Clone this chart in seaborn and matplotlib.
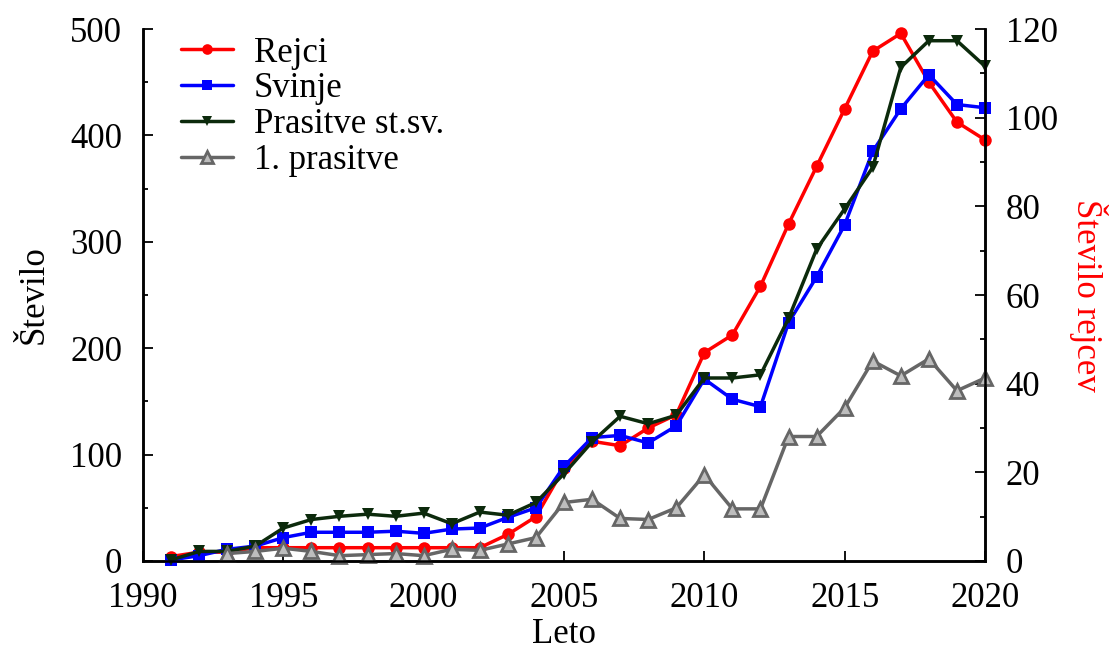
import numpy as np
import pandas as pd
import matplotlib
matplotlib.use("Agg")
import matplotlib.pyplot as plt
from matplotlib.ticker import MultipleLocator
import seaborn as sns

# Annual counts, 1991-2020
leta = list(range(1991, 2021))
rejci = [1, 2, 2, 3, 3, 3, 3, 3, 3, 3, 3, 3, 6, 10, 21, 27, 26, 30, 33, 47,
         51, 62, 76, 89, 102, 115, 119, 108, 99, 95]
svinje = [1, 5, 11, 14, 22, 27, 27, 27, 28, 26, 30, 31, 41, 50, 89, 116, 118,
          111, 127, 171, 152, 145, 224, 267, 316, 385, 425, 457, 429, 426]
prasitve_stsv = [1, 9, 9, 14, 31, 39, 42, 44, 42, 45, 35, 46, 43, 55, 82, 112,
                 136, 129, 137, 172, 172, 175, 228, 293, 331, 370, 464, 489,
                 489, 465]
prve_prasitve = [np.nan, np.nan, 7, 9, 12, 9, 5, 6, 7, 5, 11, 10, 16, 22, 55,
                 58, 40, 39, 50, 81, 49, 49, 117, 117, 144, 188, 174, 190,
                 160, 172]

df = pd.DataFrame({
    "Leto": leta,
    "Rejci": rejci,
    "Svinje": svinje,
    "Prasitve st.sv.": prasitve_stsv,
    "1. prasitve": prve_prasitve,
})

sns.set_theme(style="ticks")
plt.rcParams["font.family"] = ["Liberation Serif", "DejaVu Serif"]
plt.rcParams["font.size"] = 25
plt.rcParams["axes.labelcolor"] = "black"
plt.rcParams["text.color"] = "black"

fig = plt.figure(figsize=(11.13, 6.49), dpi=100)
ax = fig.add_axes([0.1285, 0.1356, 0.7565, 0.8197])
ax2 = ax.twinx()

lw = 2.5
ms = 9

# Breeders on the right-hand scale
sns.lineplot(data=df, x="Leto", y="Rejci", ax=ax2, color="#ff0000",
             marker="o", markersize=ms, markeredgewidth=0, linewidth=lw,
             label="Rejci", legend=False, clip_on=False)

sns.lineplot(data=df, x="Leto", y="Svinje", ax=ax, color="#0000ff",
             marker="s", markersize=ms - 0.5, markeredgewidth=0, linewidth=lw,
             label="Svinje", legend=False, clip_on=False)
sns.lineplot(data=df, x="Leto", y="Prasitve st.sv.", ax=ax, color="#0c2a0c",
             marker="v", markersize=ms, markeredgewidth=0, linewidth=lw,
             label="Prasitve st.sv.", legend=False, clip_on=False)
sns.lineplot(data=df, x="Leto", y="1. prasitve", ax=ax, color="#666666",
             marker="^", markersize=ms + 1, markeredgewidth=2.0,
             markerfacecolor="#bdbdbd", markeredgecolor="#666666",
             linewidth=lw, label="1. prasitve", legend=False, clip_on=False)

# Left axis series drawn above the right axis series
ax.set_zorder(ax2.get_zorder() + 1)
ax.patch.set_visible(False)

ax.set_xlim(1990, 2020)
ax.set_ylim(0, 500)
ax2.set_ylim(0, 120)

ax.xaxis.set_major_locator(MultipleLocator(5))
ax.yaxis.set_major_locator(MultipleLocator(100))
ax.yaxis.set_minor_locator(MultipleLocator(50))
ax2.yaxis.set_major_locator(MultipleLocator(20))
ax2.yaxis.set_minor_locator(MultipleLocator(10))

for a in (ax, ax2):
    a.spines["top"].set_visible(False)
    for s in a.spines.values():
        s.set_linewidth(1.8)
        s.set_color("black")
    a.tick_params(which="major", direction="in", length=7, width=1.3,
                  labelsize=25, pad=15, colors="black")
    a.tick_params(which="minor", direction="in", length=3.5, width=1.3,
                  colors="black")
ax.tick_params(axis="x", top=False)
ax.tick_params(axis="y", right=False, which="both")
ax2.tick_params(axis="y", left=False, which="both")

ax.set_xlabel("Leto", fontsize=25, labelpad=2, color="black")
ax.set_ylabel("Število", fontsize=25, labelpad=14, color="black")
ax2.set_ylabel("Število rejcev", fontsize=25, color="#ff0000",
               rotation=270, labelpad=36)

handles, labels = [], []
for a in (ax2, ax):
    h, l = a.get_legend_handles_labels()
    handles += h
    labels += l
leg = ax.legend(handles, labels, loc="upper left", bbox_to_anchor=(0.02, 1.025),
                frameon=False, fontsize=25, handlelength=1.5,
                handletextpad=0.6, labelspacing=0.08, markerscale=0.85,
                borderaxespad=0.2)
for t in leg.get_texts():
    t.set_color("black")

fig.savefig("out.png", dpi=100)
